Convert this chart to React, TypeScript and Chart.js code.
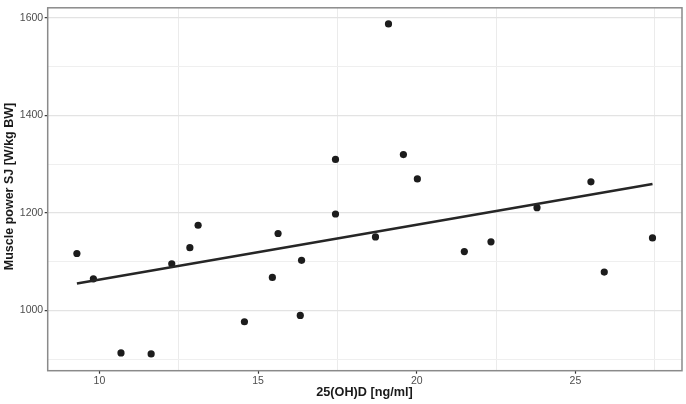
import React, { useEffect, useRef } from "react";
import { Chart, registerables } from "chart.js";

Chart.register(...registerables);

const vitaminD = [9.29, 9.81, 10.68, 11.63, 12.28, 12.85, 13.11, 14.57, 15.45, 15.63, 16.33, 16.37, 17.44, 17.44, 18.7, 19.11, 19.58, 20.02, 21.5, 22.34, 23.79, 25.49, 25.91, 27.43];
const musclePower = [1117, 1065, 913, 911, 1096, 1129, 1175, 977, 1068, 1158, 990, 1103, 1310, 1198, 1151, 1588, 1320, 1270, 1121, 1141, 1211, 1264, 1079, 1149];
const fitX = [9.29, 27.43];
const fitY = [1055.5, 1259.5];
const xTicks = [10, 12.5, 15, 17.5, 20, 22.5, 25, 27.5];
const yTicks = [900, 1000, 1100, 1200, 1300, 1400, 1500, 1600];
const xTitle = "25(OH)D [ng/ml]";
const yTitle = "Muscle power SJ [W/kg BW]";

const FONT = "'Liberation Sans', Arial, sans-serif";

export default function App() {
  const ref = useRef<HTMLCanvasElement | null>(null);

  useEffect(() => {
    const canvas = ref.current;
    if (!canvas) return;

    const panelPlugin = {
      id: "panel",
      afterDraw(chart: any) {
        const { ctx, chartArea } = chart;
        const { left, right, top, bottom } = chartArea;
        ctx.save();
        ctx.strokeStyle = "#8a8a8a";
        ctx.lineWidth = 1.5;
        ctx.strokeRect(left, top, right - left, bottom - top);
        ctx.fillStyle = "#1a1a1a";
        ctx.font = `bold 12.7px ${FONT}`;
        ctx.textAlign = "center";
        ctx.textBaseline = "middle";
        ctx.fillText(xTitle, 364.5, 392.5);
        ctx.translate(10, 186.5);
        ctx.rotate(-Math.PI / 2);
        ctx.font = `bold 12.5px ${FONT}`;
        ctx.fillText(yTitle, 0, 0);
        ctx.restore();
      },
    };

    const chart = new Chart(canvas, {
      type: "scatter",
      data: {
        datasets: [
          {
            type: "line",
            data: fitX.map((x, i) => ({ x, y: fitY[i] })),
            borderColor: "#262626",
            borderWidth: 2.5,
            pointRadius: 0,
            fill: false,
            order: 0,
          } as any,
          {
            data: vitaminD.map((x, i) => ({ x, y: musclePower[i] })),
            backgroundColor: "#1c1c1c",
            borderWidth: 0,
            pointRadius: 3.6,
            order: 1,
          },
        ],
      },
      options: {
        responsive: false,
        animation: false,
        devicePixelRatio: 1,
        layout: { padding: { left: 0, right: 4, top: 4.7, bottom: 0 } },
        plugins: { legend: { display: false }, tooltip: { enabled: false } },
        scales: {
          x: {
            type: "linear",
            min: 8.37,
            max: 28.36,
            afterBuildTicks: (scale: any) => {
              scale.ticks = xTicks.map((v) => ({ value: v }));
            },
            afterFit: (scale: any) => {
              scale.height = 33.3;
            },
            border: { display: false },
            grid: {
              color: (c: any) => (c.tick && c.tick.value % 5 === 0 ? "rgba(0,0,0,0)" : "#ebebeb"),
              tickColor: (c: any) => (c.tick && c.tick.value % 5 === 0 ? "#333333" : "rgba(0,0,0,0)"),
              lineWidth: 1,
              tickWidth: 1.2,
              tickLength: 3,
            },
            ticks: {
              autoSkip: false,
              maxRotation: 0,
              padding: 1,
              color: "#4d4d4d",
              font: { family: FONT, size: 10.5 },
              callback: (v: any) => (Number(v) % 5 === 0 ? String(v) : ""),
            },
          },
          y: {
            type: "linear",
            min: 876.6,
            max: 1621,
            afterBuildTicks: (scale: any) => {
              scale.ticks = yTicks.map((v) => ({ value: v }));
            },
            afterFit: (scale: any) => {
              scale.width = 47.7;
            },
            border: { display: false },
            grid: {
              color: (c: any) => (c.tick && c.tick.value % 200 === 0 ? "#e3e3e3" : "#efefef"),
              tickColor: (c: any) => (c.tick && c.tick.value % 200 === 0 ? "#333333" : "rgba(0,0,0,0)"),
              lineWidth: (c: any) => (c.tick && c.tick.value % 200 === 0 ? 1.3 : 1),
              tickWidth: 1.2,
              tickLength: 3,
            },
            ticks: {
              autoSkip: false,
              padding: 1.5,
              color: "#4d4d4d",
              font: { family: FONT, size: 10.5 },
              callback: (v: any) => (Number(v) % 200 === 0 ? String(v) : ""),
            },
          },
        },
      },
      plugins: [panelPlugin],
    });

    return () => chart.destroy();
  }, []);

  return (
    <div style={{ position: "fixed", left: 0, top: 0, width: 686, height: 404, background: "#ffffff" }}>
      <canvas ref={ref} width={686} height={404} />
    </div>
  );
}
